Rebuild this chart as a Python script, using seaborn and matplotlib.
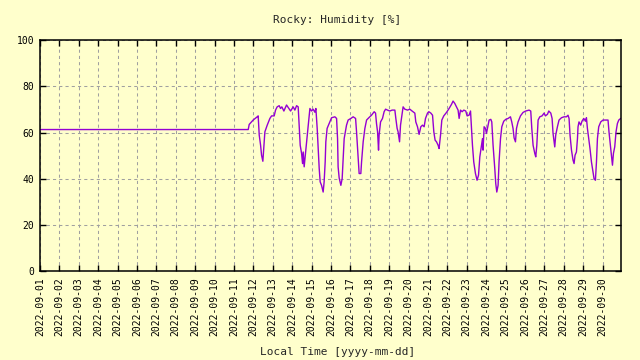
import matplotlib
matplotlib.use("Agg")
import matplotlib.pyplot as plt
import matplotlib.dates as mdates
import pandas as pd
import seaborn as sns

# ==========================
# Datos (horas desde 2022-09-01 00:00, humedad %)
# ==========================
horas = [
    0.0, 257.6, 258.8, 263.7, 268.7, 269.9, 271.2, 272.9, 274.1, 275.7,
    277.0, 278.2, 281.1, 284.4, 286.5, 289.7, 291.4, 293.4, 295.9, 297.6,
    299.2, 301.7, 305.0, 307.9, 310.0, 313.2, 315.3, 317.4, 319.4, 320.6,
    321.9, 323.6, 324.8, 325.6, 326.8, 329.8, 331.8, 333.9, 336.0, 337.9,
    340.0, 341.3, 342.9, 344.1, 345.4, 346.6, 348.3, 350.3, 351.5, 352.8,
    353.6, 355.2, 357.7, 360.7, 364.8, 366.9, 368.1, 368.8, 370.1, 372.2,
    373.8, 375.0, 376.3, 379.2, 381.2, 384.6, 387.4, 390.4, 391.6, 393.6,
    394.8, 396.9, 397.8, 399.8, 401.9, 404.0, 406.8, 410.1, 413.4, 415.1,
    416.3, 417.6, 418.8, 419.5, 421.3, 423.7, 425.7, 427.5, 429.9, 432.8,
    435.6, 439.0, 440.2, 441.8, 443.0, 444.8, 446.0, 447.2, 449.2, 451.3,
    454.7, 457.5, 460.3, 463.7, 464.9, 467.0, 469.0, 471.1, 473.2, 475.2,
    476.9, 479.4, 481.0, 483.5, 485.6, 487.2, 488.8, 490.5, 492.5, 493.7,
    495.5, 497.1, 499.5, 502.9, 506.1, 509.1, 511.0, 513.1, 515.2, 517.2,
    518.5, 520.2, 522.2, 524.3, 526.7, 528.4, 530.8, 532.6, 533.8, 535.0,
    536.6, 538.7, 540.7, 542.5, 544.1, 546.2, 547.4, 548.1, 549.4, 551.1,
    552.3, 554.3, 555.6, 557.7, 558.9, 560.5, 562.6, 563.8, 565.1, 566.7,
    567.9, 569.7, 571.3, 573.7, 576.2, 579.1, 582.0, 583.6, 585.2, 586.5,
    588.2, 589.5, 591.4, 594.4, 597.6, 600.9, 605.0, 607.1, 608.4, 610.0,
    612.1, 613.3, 614.6, 616.2, 618.3, 621.1, 623.6, 625.3, 627.8, 629.4,
    631.9, 633.5, 634.7, 636.0, 636.8, 638.0, 640.1, 642.1, 645.1, 648.3,
    651.3, 653.2, 654.5, 655.7, 657.5, 659.4, 660.7, 661.9, 663.6, 664.9,
    665.6, 666.8, 668.9, 670.5, 672.7, 674.8, 676.0, 677.2, 678.8, 680.4,
    682.2, 683.8, 685.4, 687.1, 688.4, 689.6, 691.2, 693.7, 696.5, 702.7,
    703.9, 705.7, 706.9, 708.2, 709.4, 711.0, 712.6, 714.3, 716.0, 718.4,
]
humedad = [
    61.3, 61.3, 63.5, 65.4, 66.8, 67.2, 58.9, 54.5, 50.2, 47.6,
    54.5, 60.3, 63.2, 66.1, 67.2, 67.2, 69.7, 71.1, 71.6, 70.4,
    71.1, 69.3, 71.9, 70.4, 69.3, 71.1, 69.7, 71.6, 71.1, 63.2,
    54.5, 51.0, 46.6, 51.6, 45.2, 56.0, 63.2, 70.4, 69.3, 70.1,
    68.8, 70.4, 61.8, 53.1, 44.5, 38.7, 37.2, 34.3, 38.7, 47.3,
    56.0, 61.8, 63.9, 66.4, 66.8, 66.1, 57.4, 45.2, 40.4, 37.2,
    40.1, 48.8, 57.4, 63.2, 65.4, 66.1, 66.8, 66.1, 60.3, 48.8,
    42.3, 42.3, 47.3, 56.0, 61.8, 65.4, 66.4, 67.5, 69.0, 68.4,
    63.9, 60.3, 52.4, 58.9, 64.6, 66.1, 69.0, 70.1, 69.7, 69.3,
    69.7, 69.7, 66.1, 61.8, 60.3, 56.0, 63.2, 66.1, 71.1, 70.1,
    69.7, 70.1, 69.3, 68.4, 64.6, 62.5, 59.2, 62.5, 63.2, 62.5,
    66.1, 68.4, 69.0, 68.4, 67.5, 60.3, 56.7, 56.0, 54.5, 53.1,
    58.9, 65.4, 67.2, 68.7, 70.4, 72.2, 73.6, 72.6, 71.1, 69.7,
    66.1, 69.7, 69.0, 69.7, 69.3, 67.2, 67.5, 69.3, 61.8, 54.5,
    47.3, 42.3, 39.4, 41.6, 49.5, 54.5, 57.4, 52.4, 62.5, 61.8,
    59.6, 63.2, 65.4, 65.7, 64.6, 54.5, 44.5, 38.0, 34.3, 37.2,
    47.3, 57.4, 62.5, 64.9, 65.7, 66.1, 66.8, 64.6, 61.8, 57.7,
    56.0, 61.8, 64.6, 67.2, 68.7, 69.3, 69.7, 69.3, 61.8, 54.5,
    51.0, 49.5, 54.5, 65.4, 66.8, 67.2, 68.4, 67.2, 67.9, 69.3,
    68.4, 66.1, 59.6, 56.0, 53.8, 58.9, 62.5, 65.4, 66.4, 66.8,
    66.8, 67.5, 66.1, 58.9, 52.4, 48.1, 46.6, 50.2, 51.6, 57.4,
    62.5, 64.6, 63.2, 64.9, 66.1, 64.9, 66.4, 61.8, 57.4, 53.1,
    47.3, 43.7, 40.1, 39.4, 47.3, 57.4, 62.5, 64.6, 65.4, 65.4,
    60.3, 54.5, 50.2, 45.9, 51.0, 53.8, 60.3, 63.9, 65.4, 66.1,
]

inicio = pd.Timestamp("2022-09-01")
df = pd.DataFrame({
    "tiempo": inicio + pd.to_timedelta(horas, unit="h"),
    "humedad": humedad,
})

# ==========================
# Estilo tipo gnuplot
# ==========================
FONDO = "#ffffcc"
sns.set_style("ticks")
plt.rcParams["font.family"] = ["DejaVu Sans Mono"]

fig = plt.figure(figsize=(6.4, 3.6), dpi=100, facecolor=FONDO)
ax = fig.add_axes([0.0625, 0.246, 0.9085, 0.643])
ax.set_facecolor(FONDO)

sns.lineplot(data=df, x="tiempo", y="humedad", ax=ax,
             color="#9400d3", linewidth=1.0)

ax.set_ylim(0, 100)
ax.set_yticks([0, 20, 40, 60, 80, 100])
ax.set_xlim(inicio, inicio + pd.Timedelta(hours=719.3))
ax.xaxis.set_major_locator(mdates.DayLocator())
ax.xaxis.set_major_formatter(mdates.DateFormatter("%Y-%m-%d"))
plt.setp(ax.get_xticklabels(), rotation=90)

ax.grid(True, color="#a0a0a0", linestyle=(0, (3, 3)), linewidth=0.75)
ax.tick_params(direction="in", length=4, width=1, labelsize=7,
               top=True, right=True, colors="black", pad=4)
for s in ax.spines.values():
    s.set_color("black")
    s.set_linewidth(1.1)

ax.set_xlabel("")
ax.set_ylabel("")
fig.text(0.527, 0.944, "Rocky: Humidity [%]", ha="center", va="center", fontsize=8)
fig.text(0.527, 0.022, "Local Time [yyyy-mm-dd]", ha="center", va="center", fontsize=8)

plt.savefig("out.png", dpi=100, facecolor=FONDO)
